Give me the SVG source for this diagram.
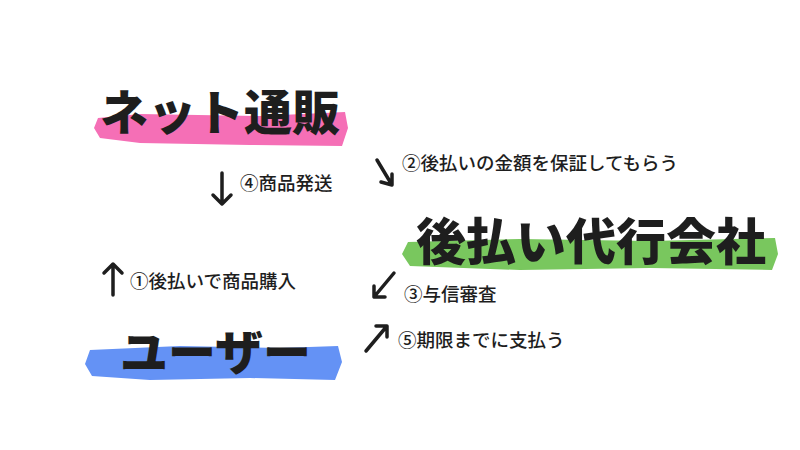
<svg xmlns="http://www.w3.org/2000/svg" width="800" height="450" viewBox="0 0 800 450">
<defs>
<style>
.t{font-family:"Noto Sans CJK JP","Noto Sans",sans-serif;font-weight:900;fill:#1e1e1e}
.l{font-family:"Noto Sans CJK JP","Noto Sans",sans-serif;font-size:18.5px;font-weight:500;fill:#1e1e1e}
.a{stroke:#1e1e1e;stroke-width:3.5;fill:none;stroke-linecap:round;stroke-linejoin:round}
</style>
</defs>
<rect width="800" height="450" fill="#fff"/>
<g id="net">
<path d="M98,118 L140,114 L260,116 L345,112 L348,128 L342,146 L250,145 L140,143 L100,138 L94,128 Z" fill="#f56fb6"/>
<text class="t" x="100" y="130" font-size="48">ネット通販</text>
</g>
<g id="agency">
<path d="M408,242 L520,239 L650,241 L775,238 L778,254 L772,270 L650,268 L520,270 L410,266 L402,254 Z" fill="#79c75e"/>
<text class="t" x="416" y="260" font-size="50">後払い代行会社</text>
</g>
<g id="user">
<path d="M90,350 L180,346 L280,348 L338,346 L342,362 L335,380 L250,378 L150,380 L92,376 L85,364 Z" fill="#6492f5"/>
<text class="t" x="120" y="370" font-size="48">ユーザー</text>
</g>
<g id="connectors">
<path class="a" d="M222,173 V204 M213,195 L222,204 L231,195"/>
<path class="a" d="M377,160 L392,185 M392,174 L392,185 L381,182"/>
<path class="a" d="M113,295 V264 M104,273 L113,264 L122,273"/>
<path class="a" d="M394,273 L374,297 M374,286 L374,297 L385,297"/>
<path class="a" d="M366,351 L387,326 M376,326 L387,326 L387,337"/>
</g>
<g id="labels">
<text class="l" x="240" y="190">④商品発送</text>
<text class="l" x="402" y="170">②後払いの金額を保証してもらう</text>
<text class="l" x="130" y="288">①後払いで商品購入</text>
<text class="l" x="404" y="301">③与信審査</text>
<text class="l" x="398" y="347">⑤期限までに支払う</text>
</g>
</svg>
